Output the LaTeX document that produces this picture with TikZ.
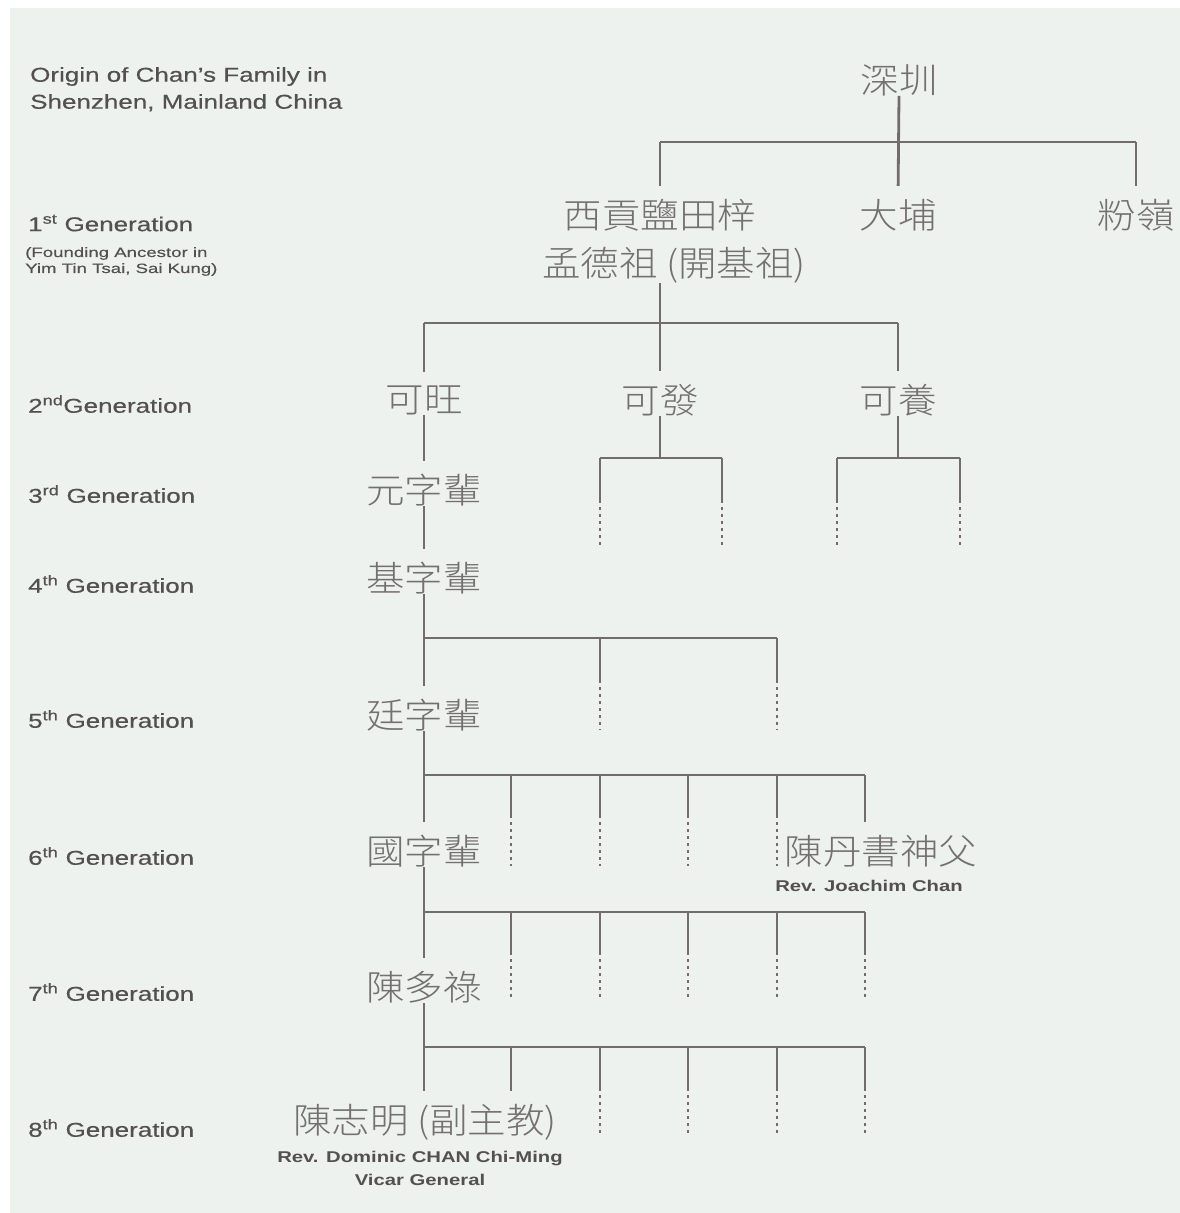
\documentclass[tikz,border=0pt]{standalone}
\usepackage{fontspec}
\setmainfont{Liberation Sans}
\newfontfamily\genfont[FakeStretch=1.3,FakeBold=0.5]{Liberation Sans}
\newfontfamily\smallfont[FakeStretch=1.38,FakeBold=0.4]{Liberation Sans}
\newfontfamily\revfont[FakeStretch=1.3]{Liberation Sans}
\newfontfamily\cjk[FakeStretch=1.1]{Noto Sans CJK TC Light}
\definecolor{bgc}{HTML}{EEF2EF}
\definecolor{linec}{HTML}{736C6D}
\definecolor{cjkc}{HTML}{747070}
\definecolor{engc}{HTML}{545052}
\tikzset{
  ln/.style={draw=linec, line width=2.8pt},
  dotln/.style={draw=linec, line width=2.8pt, dash pattern=on 3pt off 4pt},
  tonode/.style={shorten >=13pt},
  cj/.style={text=cjkc, font=\cjk\fontsize{35}{40}\selectfont, inner sep=0pt},
  hdr/.style={text=engc, font=\genfont\fontsize{20}{27}\selectfont, inner sep=0pt, align=left},
  gen/.style={text=engc, font=\genfont\fontsize{20}{24}\selectfont, anchor=west, inner sep=0pt},
  smalltxt/.style={text=engc, font=\smallfont\fontsize{13.5}{16}\selectfont, inner sep=0pt, align=left},
  revtxt/.style={text=engc, font=\revfont\bfseries\fontsize{15.6}{23}\selectfont, inner sep=0pt, align=center}
}
\begin{document}
\begin{tikzpicture}[x=1pt,y=-1pt]
\useasboundingbox (0,0) rectangle (1180,1213);
\fill[white] (0,0) rectangle (1180,1213);
\fill[bgc] (10,8) rectangle (1180,1213);

% ---- left labels
\node[hdr, anchor=north west] (org) at (30,67) {Origin of Chan’s Family in\\Shenzhen, Mainland China};
\node[gen] (g1) at (28,223) {1\textsuperscript{st} Generation};
\node[smalltxt, anchor=north west] (g1a) at (25,247) {(Founding Ancestor in\\Yim Tin Tsai, Sai Kung)};
\node[gen] (g2) at (28,404) {2\textsuperscript{nd}Generation};
\node[gen] (g3) at (28,494) {3\textsuperscript{rd} Generation};
\node[gen] (g4) at (28,584) {4\textsuperscript{th} Generation};
\node[gen] (g5) at (28,719) {5\textsuperscript{th} Generation};
\node[gen] (g6) at (28,856) {6\textsuperscript{th} Generation};
\node[gen] (g7) at (28,992) {7\textsuperscript{th} Generation};
\node[gen] (g8) at (28,1128) {8\textsuperscript{th} Generation};

% ---- tree nodes
\node[cj] (sz) at (899,80) {深圳};
\node[cj] (xg) at (660,215) {西貢鹽田梓};
\node[cj] (dp) at (898,215) {大埔};
\node[cj] (fl) at (1136,215) {粉嶺};
\node[cj] (mdz) at (674,265) {孟德祖 (開基祖)};
\node[cj] (kw) at (424,400) {可旺};
\node[cj] (kf) at (660,400) {可發};
\node[cj] (ky) at (898,400) {可養};
\node[cj] (yz) at (424,490) {元字輩};
\node[cj] (jz) at (424,578) {基字輩};
\node[cj] (tz) at (424,715) {廷字輩};
\node[cj] (gz) at (424,851) {國字輩};
\node[cj] (dsf) at (881,851) {陳丹書神父};
\node[revtxt] (rj) at (869,886) {Rev. Joachim Chan};
\node[cj] (cdl) at (424,987) {陳多祿};
\node[cj] (czm) at (425,1122) {陳志明 (副主教)};
\node[revtxt] (rd) at (420,1168) {Rev. Dominic CHAN Chi-Ming\\Vicar General};

% ---- Shenzhen to 1st generation
\coordinate (bAl) at (660,142);
\coordinate (bAr) at (1136,142);
\draw[ln] (bAl) -- (bAr);
\draw[ln,tonode] (sz.south) -- (dp.north);
\draw[ln,tonode] (bAl) -- (xg.north);
\draw[ln,tonode] (bAr) -- (fl.north);

% ---- 1st to 2nd generation
\coordinate (bBl) at (424,323);
\coordinate (bBr) at (898,323);
\draw[ln] (bBl) -- (bBr);
\draw[ln,tonode] (mdz.south -| kf) -- (kf.north);
\draw[ln,tonode] (bBl) -- (kw.north);
\draw[ln,tonode] (bBr) -- (ky.north);

% ---- 2nd to 3rd generation
\coordinate (bCl) at (600,458);
\coordinate (bCr) at (722,458);
\coordinate (bCCl) at (837,458);
\coordinate (bCCr) at (960,458);
\draw[ln] (bCl) -- (bCr);
\draw[ln] (bCCl) -- (bCCr);
\draw[ln] (kf.south) -- (kf.south |- bCl);
\draw[ln] (ky.south) -- (ky.south |- bCCl);
\foreach \x/\n in {600/a,722/b,837/c,960/d}{
  \coordinate (s3\n) at (\x,458);
  \coordinate (m3\n) at (\x,500);
  \coordinate (e3\n) at (\x,548);
  \draw[ln] (s3\n) -- (m3\n);
  \draw[dotln] (m3\n) -- (e3\n);
}

% ---- main trunk
\draw[ln,tonode] (kw.south) -- (yz.north);
\draw[ln,tonode] (yz.south) -- (jz.north);
\draw[ln,tonode] (jz.south) -- (tz.north);
\draw[ln,tonode] (tz.south) -- (gz.north);
\draw[ln,tonode] (gz.south) -- (cdl.north);
\draw[ln,tonode] (cdl.south) -- (czm.north -| cdl);

% ---- 4th to 5th generation
\coordinate (bDl) at (424,638);
\coordinate (bDr) at (777,638);
\draw[ln] (bDl) -- (bDr);
\foreach \x/\n in {600/a,777/b}{
  \coordinate (s5\n) at (\x,638);
  \coordinate (m5\n) at (\x,680);
  \coordinate (e5\n) at (\x,730);
  \draw[ln] (s5\n) -- (m5\n);
  \draw[dotln] (m5\n) -- (e5\n);
}

% ---- 5th to 6th generation
\coordinate (bEl) at (424,775);
\coordinate (bEr) at (865,775);
\draw[ln] (bEl) -- (bEr);
\foreach \x/\n in {511/a,600/b,688/c,777/d}{
  \coordinate (s6\n) at (\x,775);
  \coordinate (m6\n) at (\x,815);
  \coordinate (e6\n) at (\x,866);
  \draw[ln] (s6\n) -- (m6\n);
  \draw[dotln] (m6\n) -- (e6\n);
}
\draw[ln,tonode] (bEr) -- (dsf.north -| bEr);

% ---- 6th to 7th generation
\coordinate (bFl) at (424,912);
\coordinate (bFr) at (865,912);
\draw[ln] (bFl) -- (bFr);
\foreach \x/\n in {511/a,600/b,688/c,777/d,865/e}{
  \coordinate (s7\n) at (\x,912);
  \coordinate (m7\n) at (\x,952);
  \coordinate (e7\n) at (\x,1000);
  \draw[ln] (s7\n) -- (m7\n);
  \draw[dotln] (m7\n) -- (e7\n);
}

% ---- 7th to 8th generation
\coordinate (bGl) at (424,1047);
\coordinate (bGr) at (865,1047);
\coordinate (bGa) at (511,1047);
\draw[ln] (bGl) -- (bGr);
\draw[ln,tonode] (bGa) -- (czm.north -| bGa);
\foreach \x/\n in {600/b,688/c,777/d,865/e}{
  \coordinate (s8\n) at (\x,1047);
  \coordinate (m8\n) at (\x,1088);
  \coordinate (e8\n) at (\x,1136);
  \draw[ln] (s8\n) -- (m8\n);
  \draw[dotln] (m8\n) -- (e8\n);
}
\end{tikzpicture}
\end{document}
